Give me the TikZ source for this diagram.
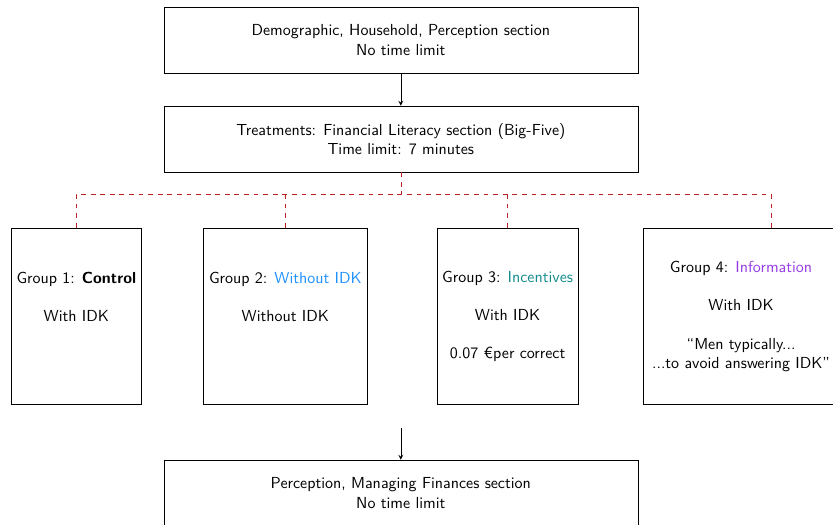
\documentclass[tikz,border=0pt]{standalone}
\usepackage{color}
\usepackage{amsmath}
\usepackage{tikz}
\renewcommand{\familydefault}{\sfdefault}
\definecolor{idkblue}{RGB}{30,144,255}
\definecolor{idkteal}{RGB}{20,140,140}
\definecolor{idkpurple}{RGB}{150,60,230}
\definecolor{busred}{RGB}{185,35,35}
\tikzset{
	section/.style={shape=rectangle,draw=black,minimum width=10.43cm,minimum height=1.45cm,align=center},
	group/.style={shape=rectangle,draw=black,minimum height=3.89cm,align=center},
	bus/.style={dashed,draw=busred}
}

\begin{document}
\begin{tikzpicture}[>=stealth]
	\useasboundingbox (0, 0) rectangle (18.33, 11.55);
	\node[section] (demo) at (8.82, 10.67)  {Demographic, Household, Perception section\\No time limit};
	\node[section] (treat) at (8.82, 8.49)  {Treatments: Financial Literacy section (Big-Five)\\Time limit: 7 minutes};
	\node[group] (g1) at (1.68, 4.59)       {Group 1: \textbf{Control}\\ \\With IDK\\ \\ ~};
	\node[group] (g2) at (6.28, 4.59)       {Group 2: \textcolor{idkblue}{Without IDK}\\ \\Without IDK\\ \\ ~};
	\node[group] (g3) at (11.17, 4.59)      {Group 3: \textcolor{idkteal}{Incentives}\\ \\With IDK\\ \\0.07 \texteuro per correct};
	\node[group,anchor=west,minimum width=4.3cm] (g4) at (14.15, 4.59) {Group 4: \textcolor{idkpurple}{Information}\\ \\With IDK\\ \\``Men typically...\\...to avoid answering IDK''};
	\node[section] (manage) at (8.82, 0.70) {Perception, Managing Finances section\\No time limit};
	\coordinate (split) at (8.82, 7.28);
	\coordinate (c4) at (16.98, 7.28);
	\coordinate (gap) at (8.82, 2.14);
	\draw[->] (demo) -- (treat);
	\path[bus] (treat) -- (split);
	\path[bus] (g1.north) |- (c4);
	\path[bus] (g2.north) -- (g2.north |- split);
	\path[bus] (g3.north) -- (g3.north |- split);
	\path[bus] (c4) -- (c4 |- g4.north);
	\draw[->] (gap) -- (manage);
\end{tikzpicture}
\end{document}
